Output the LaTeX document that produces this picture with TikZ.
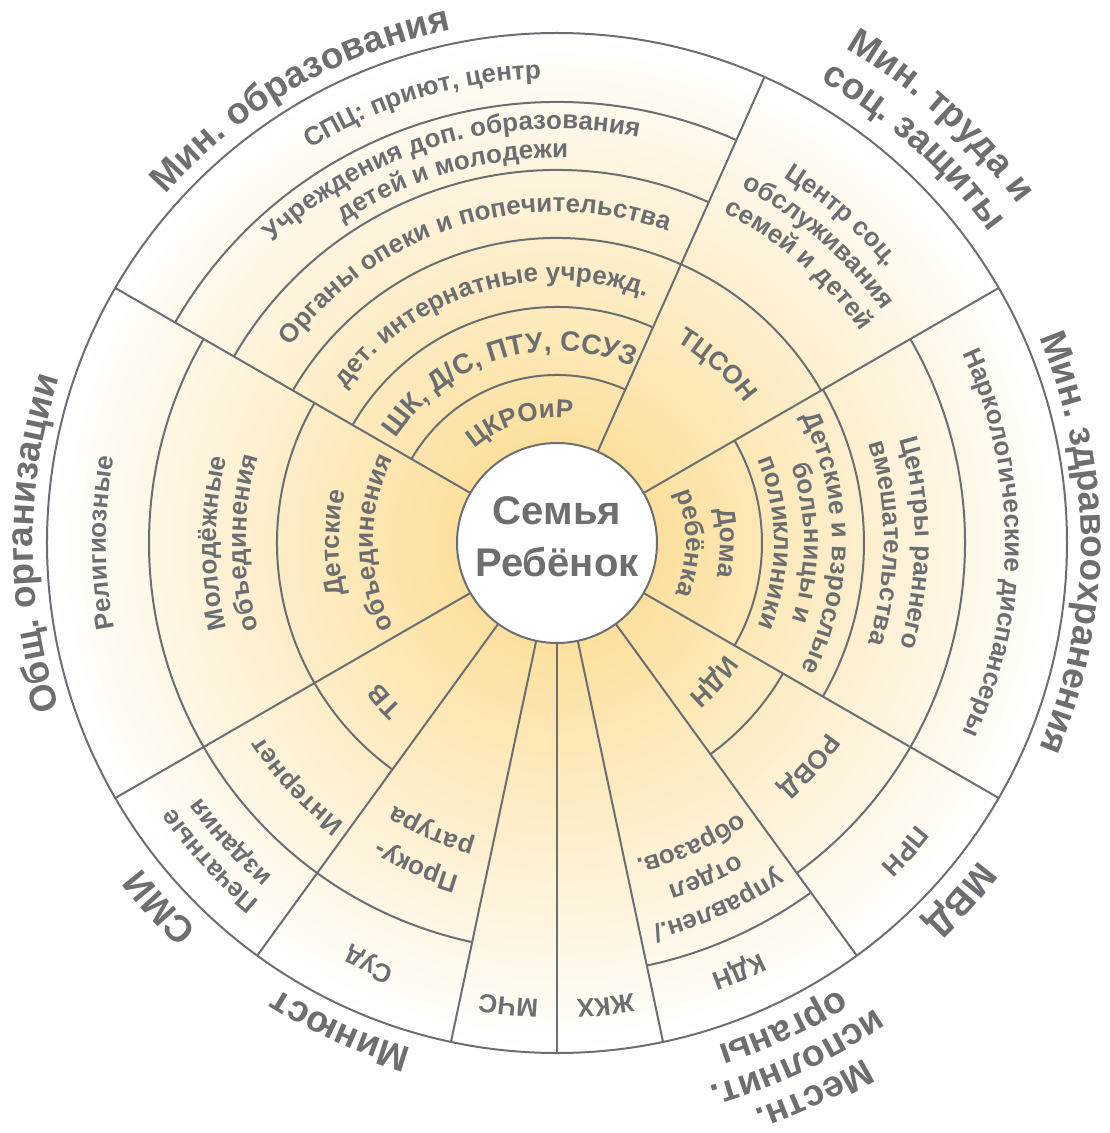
\documentclass[tikz,border=0pt]{standalone}
\usepackage{fontspec}
\setmainfont{Liberation Sans}
\usetikzlibrary{decorations.text}
\definecolor{ink}{RGB}{109,110,113}
\definecolor{glow}{RGB}{252,224,158}
\pgfdeclareradialshading{warmglow}{\pgfpoint{0bp}{0bp}}{color(0bp)=(glow); color(5bp)=(glow); color(25bp)=(white); color(50bp)=(white)}
\newcommand{\fCore}{\fontsize{40}{52}\selectfont\bfseries}
\newcommand{\fOut}{\fontsize{37}{37}\selectfont\bfseries}
\newcommand{\fBig}{\fontsize{28}{28}\selectfont\bfseries}
\newcommand{\fIn}{\fontsize{26}{26}\selectfont\bfseries}
\newcommand{\fSm}{\fontsize{26}{26}\selectfont\bfseries}
\tikzset{
  spoke/.style={draw=ink, line width=2pt},
  ring/.style={draw=ink, line width=2pt},
  hub/.style={circle, draw=ink, line width=2pt, fill=white, minimum size=200pt, inner sep=0pt},
  coretext/.style={align=center, font=\fCore, text=ink},
  lbl/.style={decorate, decoration={text along path, text align=center, text color=ink}},
}
% one line of text along a circle: centre angle, baseline radius, font, text
\newcommand{\ringlabel}[4]{%
  \path[lbl, decoration={text={|#3|#4}}]
    (#1+75:#2pt) arc[start angle=#1+75, end angle=#1-75, radius=#2pt];}

\begin{document}
\begin{tikzpicture}[x=1pt, y=1pt]
\useasboundingbox (-557,-590) rectangle (552,543);

\shade[shading=warmglow] (0,0) circle[radius=510pt];

\foreach \a in {66,30,-30,-54,-78,-90,-102,-126,-150,150}
  \draw[spoke] (\a:100pt) -- (\a:510pt);

\foreach \r/\a/\b in {168/66/150, 236/66/150, 305/30/150, 373/66/150, 441/66/150,
                      205/-30/30, 307/-30/30, 408/-54/30, 261/-54/-30, 432/-78/-54,
                      280/150/234, 408/150/258}
  \draw[ring] (\a:\r pt) arc[start angle=\a, end angle=\b, radius=\r pt];

\draw[ring] (0,0) circle[radius=510pt];

\node[hub] (core) at (0,0) {};
\node[coretext] (coretxt) at (0,6) {Семья\\Ребёнок};

% Мин. образования
\ringlabel{107}{125}{\fIn}{ЦКРОиР}
\ringlabel{107}{192}{\fBig}{ШК, Д/С, ПТУ, ССУЗ}
\ringlabel{107}{262}{\fIn}{дет. интернатные учрежд.}
\ringlabel{107}{331}{\fIn}{Органы опеки и попечительства}
\ringlabel{106}{414}{\fSm}{Учреждения доп. образования}
\ringlabel{106}{385}{\fSm}{детей и молодежи}
\ringlabel{107}{465}{\fSm}{СПЦ: приют, центр}
\ringlabel{120}{524}{\fOut}{Мин. образования}

% Мин. труда и соц. защиты
\ringlabel{48}{234}{\fIn}{ТЦСОН}
\ringlabel{49}{430}{\fSm}{Центр соц.}
\ringlabel{49}{400}{\fSm}{обслуживания}
\ringlabel{49}{370}{\fSm}{семей и детей}
\ringlabel{48}{572}{\fOut}{Мин. труда и}
\ringlabel{48}{532}{\fOut}{соц. защиты}

% Мин. здравоохранения
\ringlabel{0}{163}{\fIn}{Дома}
\ringlabel{0}{129}{\fIn}{ребёнка}
\ringlabel{0}{275}{\fSm}{Детские и взрослые}
\ringlabel{0}{247}{\fSm}{больницы и}
\ringlabel{0}{217}{\fSm}{поликлиники}
\ringlabel{0}{358}{\fSm}{Центры раннего}
\ringlabel{0}{327}{\fSm}{вмешательства}
\ringlabel{0}{448}{\fSm}{Наркологические диспансеры}
\ringlabel{0}{524}{\fOut}{Мин. здравоохранения}

% МВД
\ringlabel{-41.5}{202}{\fIn}{ИДН}
\ringlabel{-41.5}{330}{\fIn}{РОВД}
\ringlabel{-41.5}{457}{\fSm}{ПРН}
\ringlabel{-41.5}{528}{\fOut}{МВД}

% Местн. исполнит. органы
\ringlabel{-66}{394}{\fSm}{управлен./}
\ringlabel{-66}{360}{\fSm}{отдел}
\ringlabel{-66}{326}{\fSm}{образов.}
\ringlabel{-67}{458}{\fSm}{КДН}
\ringlabel{-65}{600}{\fOut}{Местн.}
\ringlabel{-65}{564}{\fOut}{исполнит.}
\ringlabel{-65}{528}{\fOut}{органы}
\ringlabel{-84}{457}{\fSm}{ЖКХ}
\ringlabel{-96}{457}{\fSm}{МЧС}

% Минюст
\ringlabel{-113.5}{347}{\fIn}{Проку-}
\ringlabel{-113.5}{309}{\fIn}{ратура}
\ringlabel{-114}{455}{\fSm}{Суд}
\ringlabel{-114}{526}{\fOut}{Минюст}

% СМИ
\ringlabel{-137.5}{226}{\fIn}{ТВ}
\ringlabel{-137}{352}{\fSm}{Интернет}
\ringlabel{-137.5}{466}{\fSm}{Печатные}
\ringlabel{-137.5}{438}{\fSm}{издания}
\ringlabel{-137.5}{528}{\fOut}{СМИ}

% Общ. организации
\ringlabel{180}{218}{\fIn}{Детские}
\ringlabel{180}{184}{\fIn}{объединения}
\ringlabel{180}{341}{\fIn}{Молодёжные}
\ringlabel{180}{311}{\fIn}{объединения}
\ringlabel{180}{451}{\fIn}{Религиозные}
\ringlabel{180}{524}{\fOut}{Общ. организации}

\end{tikzpicture}
\end{document}
